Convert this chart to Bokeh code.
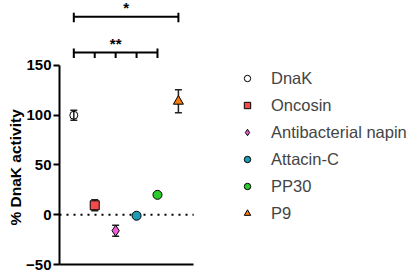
from bokeh.plotting import figure
from bokeh.models import (ColumnDataSource, Whisker, TeeHead, Title, Legend, LegendItem,
                          FixedTicker, Range1d)
from bokeh.core.properties import value
from bokeh.embed import file_html
from bokeh.resources import INLINE

# ---- data ----
names = ["DnaK", "Oncosin", "Antibacterial napin", "Attacin-C", "PP30", "P9"]
means = [100, 9.5, -16, -1, 20, 114]
errors = [5, 5.5, 5.5, 1.5, 1, 11.5]
markers = ["circle", "square", "diamond", "circle", "circle", "triangle"]
fill_colors = ["white", "#f44a4a", "#f25ad9", "#1c9db5", "#2bcc2b", "#f47b0c"]
marker_sizes = [8, 9, 11, 9, 9, 10]
y_ticks = [-50, 0, 50, 100, 150]

# significance brackets (from group, to group, height, label)
bracket_from = [1, 1]
bracket_to = [6, 5]
bracket_y = [199, 163]
bracket_text = ["*", "**"]
bracket_inner = [False, True]

# ---- layout constants ----
X_START, X_END = 0.316, 17.0
AXIS_X_END = 6.73
Y_START, Y_END = -50, 215.3
FONT = "Liberation Sans"

xs = list(range(1, len(names) + 1))

p = figure(width=408, height=272, x_range=Range1d(X_START, X_END),
           y_range=Range1d(Y_START, Y_END), output_backend="svg",
           toolbar_location=None, min_border_left=59, min_border_right=0,
           min_border_top=0, min_border_bottom=8)
p.outline_line_color = None
p.grid.visible = False
p.background_fill_color = "white"

# x axis: plain line, no ticks
p.xaxis.ticker = FixedTicker(ticks=[])
p.xaxis.bounds = (X_START, AXIS_X_END)
p.xaxis.axis_line_width = 2
p.xaxis.major_tick_out = 0
p.xaxis.major_tick_in = 0
p.xaxis.minor_tick_out = 0
p.xaxis.major_label_standoff = 0
p.xaxis.major_label_text_font_size = "0px"

# y axis
p.yaxis.ticker = FixedTicker(ticks=y_ticks)
p.yaxis.bounds = (-50, 150)
p.yaxis.axis_line_width = 2
p.yaxis.major_tick_line_width = 2
p.yaxis.major_tick_out = 6
p.yaxis.major_tick_in = 0
p.yaxis.minor_tick_out = 0
p.yaxis.minor_tick_in = 0
p.yaxis.major_label_standoff = 2
p.yaxis.major_label_text_font = FONT
p.yaxis.major_label_text_font_style = "bold"
p.yaxis.major_label_text_font_size = "15px"
p.yaxis.major_label_text_color = "black"

p.add_layout(Title(text="% DnaK activity", align="left", offset=39, standoff=0,
                   text_font=FONT, text_font_style="bold", text_font_size="15.5px",
                   text_color="black"), "left")

# zero reference line (dotted)
p.line(x=[X_START, AXIS_X_END], y=[0, 0], line_color="black", line_width=2, line_dash="2 5")

# error bars
src = ColumnDataSource(dict(x=xs, upper=[m + e for m, e in zip(means, errors)],
                            lower=[m - e for m, e in zip(means, errors)]))
p.add_layout(Whisker(base="x", upper="upper", lower="lower", source=src, dimension="height",
                     level="underlay", line_width=1.5, line_color="#222222",
                     upper_head=TeeHead(size=7, line_width=1.5, line_color="#222222"),
                     lower_head=TeeHead(size=7, line_width=1.5, line_color="#222222")))

items = []
for i, n in enumerate(names):
    s = ColumnDataSource(dict(x=[xs[i]], y=[means[i]]))
    r = p.scatter(x="x", y="y", source=s, marker=markers[i], size=marker_sizes[i],
                  fill_color=fill_colors[i], fill_alpha=0 if i == 0 else 1,
                  line_color="black", line_width=1)
    items.append(LegendItem(label=n, renderers=[r]))

legend = Legend(items=items, location=(180, 41), glyph_width=16, glyph_height=20,
                label_height=20, spacing=7, padding=0, margin=0, label_standoff=16,
                label_text_font=FONT, label_text_font_size="16.5px",
                background_fill_alpha=0, border_line_color=None)
p.add_layout(legend)

# significance brackets
hx0, hx1, hy0, hy1 = [], [], [], []
for a, b, y, inner in zip(bracket_from, bracket_to, bracket_y, bracket_inner):
    hx0.append(a); hx1.append(b); hy0.append(y); hy1.append(y)
    for xe in (a, b):
        hx0.append(xe); hx1.append(xe); hy0.append(y + 4); hy1.append(y - 5.5)
    if inner:
        for xe in range(a + 1, b):
            hx0.append(xe); hx1.append(xe); hy0.append(y); hy1.append(y - 5.5)
p.segment(x0=hx0, y0=hy0, x1=hx1, y1=hy1, line_color="black", line_width=2)

p.text(x=[(a + b) / 2 for a, b in zip(bracket_from, bracket_to)],
       y=bracket_y, y_offset=-9, text=bracket_text, text_align="center",
       text_baseline="alphabetic", text_font=value(FONT), text_font_style="bold",
       text_font_size="15px", text_color="black")

open("out.html", "w").write(file_html(p, INLINE))
